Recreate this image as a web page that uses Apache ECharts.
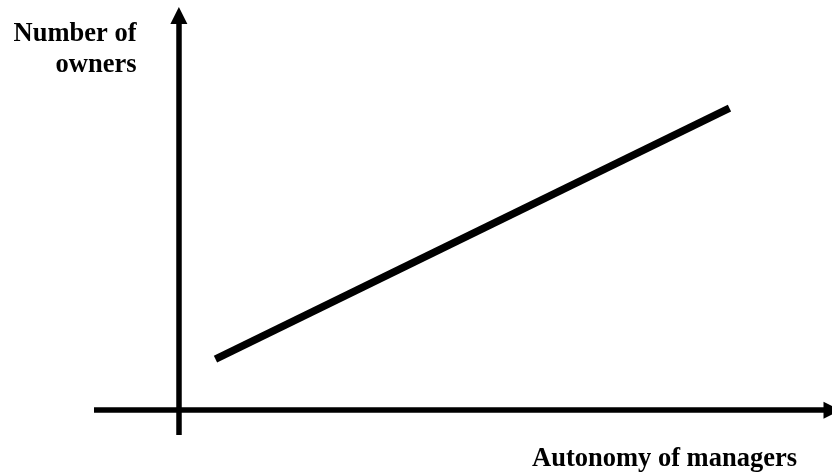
<!DOCTYPE html>
<html><head><meta charset="utf-8">
<script src="https://cdn.jsdelivr.net/npm/echarts@6/dist/echarts.min.js"></script>
<style>html,body{margin:0;padding:0;background:#fff}#c{width:832px;height:476px}</style>
</head><body><div id="c"></div>
<script>
const xAxisTitle = 'Autonomy of managers';
const yAxisTitle = 'Number of\nowners';
const autonomy = [5.6, 84.3];
const owners = [12.9, 76.5];
const xRange = [-13, 100];
const yRange = [-6.3, 100];

const chart = echarts.init(document.getElementById('c'));
const axisCommon = {
  type: 'value',
  axisLine: { show: true, onZero: true, symbol: ['none', 'triangle'], symbolSize: [17, 17],
    lineStyle: { color: '#000', width: 5.5, cap: 'butt' } },
  axisTick: { show: false }, axisLabel: { show: false }, splitLine: { show: false }
};
chart.setOption({
  animation: false,
  backgroundColor: '#fff',
  grid: { left: 94, right: 0, top: 15.5, bottom: 41 },
  xAxis: Object.assign({}, axisCommon, { min: xRange[0], max: xRange[1] }),
  yAxis: Object.assign({}, axisCommon, { min: yRange[0], max: yRange[1] }),
  series: [{
    type: 'line',
    data: autonomy.map((x, i) => [x, owners[i]]),
    showSymbol: false,
    lineStyle: { color: '#000', width: 7.5, cap: 'butt' }
  }],
  graphic: [
    { type: 'text', right: 35, top: 446,
      style: { text: xAxisTitle, fill: '#000', font: 'bold 26.5px "Liberation Serif"' } },
    { type: 'text', x: 136.5, y: 19,
      style: { text: yAxisTitle, fill: '#000', align: 'right', lineHeight: 31,
        font: 'bold 26.5px "Liberation Serif"' } }
  ]
});
</script></body></html>
